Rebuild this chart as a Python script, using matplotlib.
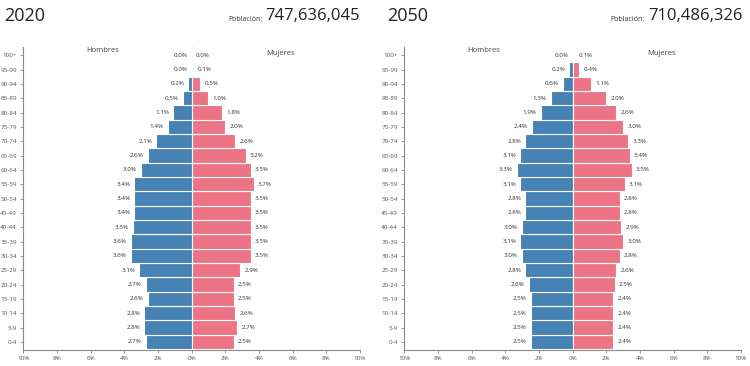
import matplotlib
matplotlib.use("Agg")
import numpy as np
import matplotlib.pyplot as plt

plt.rcParams["font.family"] = ["Open Sans", "DejaVu Sans"]

# -------------------------------
# Data (percent of total population)
# -------------------------------
ages = ["0-4", "5-9", "10-14", "15-19", "20-24", "25-29", "30-34", "35-39",
        "40-44", "45-49", "50-54", "55-59", "60-64", "65-69", "70-74",
        "75-79", "80-84", "85-89", "90-94", "95-99", "100+"]

men_2020 = [2.7, 2.8, 2.8, 2.6, 2.7, 3.1, 3.6, 3.6, 3.5, 3.4, 3.4, 3.4, 3.0,
            2.6, 2.1, 1.4, 1.1, 0.5, 0.2, 0.0, 0.0]
women_2020 = [2.5, 2.7, 2.6, 2.5, 2.5, 2.9, 3.5, 3.5, 3.5, 3.5, 3.5, 3.7, 3.5,
              3.2, 2.6, 2.0, 1.8, 1.0, 0.5, 0.1, 0.0]

men_2050 = [2.5, 2.5, 2.5, 2.5, 2.6, 2.8, 3.0, 3.1, 3.0, 2.8, 2.8, 3.1, 3.3,
            3.1, 2.8, 2.4, 1.9, 1.3, 0.6, 0.2, 0.0]
women_2050 = [2.4, 2.4, 2.4, 2.4, 2.5, 2.6, 2.8, 3.0, 2.9, 2.8, 2.8, 3.1, 3.5,
              3.4, 3.3, 3.0, 2.6, 2.0, 1.1, 0.4, 0.1]

years = ["2020", "2050"]
populations = ["747,636,045", "710,486,326"]

xticks = [-10, -8, -6, -4, -2, 0, 2, 4, 6, 8, 10]
xticklabels = [f"{abs(t)}%" for t in xticks]

blue = "#4682b4"
pink = "#ed7485"
grey_text = "#555555"

# -------------------------------
# Plot
# -------------------------------
fig = plt.figure(figsize=(7.5, 3.66), dpi=100)
fig.patch.set_facecolor("white")

# (axes left, year x, "Población" right edge, number left edge) in figure fraction
panels = [
    (0.031, 0.006, 0.350, 0.354, men_2020, women_2020),
    (0.539, 0.516, 0.860, 0.864, men_2050, women_2050),
]

y = np.arange(len(ages))

for i, (left, yx, px, nx, men, women) in enumerate(panels):
    ax = fig.add_axes([left, 0.044, 0.449, 0.827])
    ax.barh(y, -np.array(men), height=1.0, color=blue, edgecolor="white", linewidth=0.8)
    ax.barh(y, women, height=1.0, color=pink, edgecolor="white", linewidth=0.8)
    ax.axvline(0, color="#dddddd", lw=0.6, zorder=0)

    for yi, m, w in zip(y, men, women):
        ax.text(-m - 0.25, yi, f"{m:.1f}%", ha="right", va="center",
                fontsize=4.5, color="#333333")
        ax.text(w + 0.25, yi, f"{w:.1f}%", ha="left", va="center",
                fontsize=4.5, color="#333333")

    ax.set_xlim(-10, 10)
    ax.set_ylim(-0.56, len(ages) - 0.44)
    ax.set_xticks(xticks)
    ax.set_xticklabels(xticklabels, fontsize=4.5, color=grey_text)
    ax.set_yticks(y)
    ax.set_yticklabels(ages, fontsize=4.5, color=grey_text)
    ax.tick_params(axis="both", length=2.5, width=0.6, color="#888888", pad=2)

    for side in ["top", "right"]:
        ax.spines[side].set_visible(False)
    for side in ["left", "bottom"]:
        ax.spines[side].set_color("#888888")
        ax.spines[side].set_linewidth(0.8)

    ax.text(-5.3, 20.3, "Hombres", ha="center", va="center", fontsize=5.5, color="#444444")
    ax.text(5.3, 20.1, "Mujeres", ha="center", va="center", fontsize=5.5, color="#444444")

    # header
    fig.text(yx, 0.955, years[i], ha="left", va="center", fontsize=13, color="#222222")
    fig.text(nx, 0.955, populations[i], ha="left", va="center",
             fontsize=12, color="#222222")
    fig.text(px, 0.948, "Población:", ha="right", va="center",
             fontsize=5, color="#333333")

fig.savefig("out.png", dpi=100, facecolor="white")
